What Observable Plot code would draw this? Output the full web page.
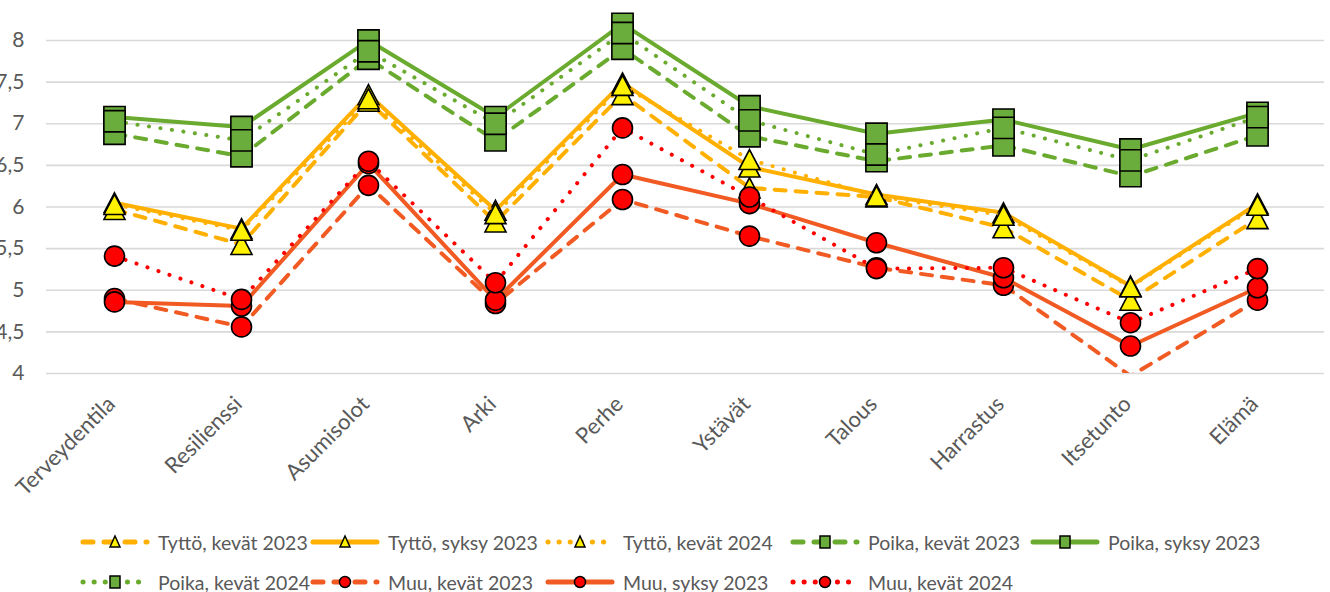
<!DOCTYPE html>
<html><head><meta charset="utf-8">
<script src="https://cdn.jsdelivr.net/npm/d3@7"></script>
<script src="https://cdn.jsdelivr.net/npm/@observablehq/plot@0.6"></script>
<style>
body{margin:0;background:#fff;font-family:Lato,"Open Sans",sans-serif;}
#chart{width:1330px;height:592px;overflow:hidden;position:relative;}
.legend{display:grid;grid-template-columns:230px 235px 245px 240px 240px;padding-left:80px;}
.item{display:flex;align-items:center;height:40px;font-size:19.5px;color:#595959;white-space:nowrap;}
.item svg{margin-right:8px;flex:none;}
</style></head><body><div id="chart"></div>
<script>
const categories = ["Terveydentila","Resilienssi","Asumisolot","Arki","Perhe","Ystävät","Talous","Harrastus","Itsetunto","Elämä"];
const yTicks = [4, 4.5, 5, 5.5, 6, 6.5, 7, 7.5, 8];

const tyttoKevat2023 = [5.97, 5.55, 7.27, 5.82, 7.35, 6.23, 6.12, 5.75, 4.88, 5.86];
const tyttoSyksy2023 = [6.05, 5.74, 7.35, 5.96, 7.49, 6.48, 6.15, 5.93, 5.05, 6.04];
const tyttoKevat2024 = [6.03, 5.72, 7.30, 5.92, 7.46, 6.57, 6.13, 5.90, 5.04, 6.02];
const poikaKevat2023 = [6.88, 6.61, 7.78, 6.80, 7.90, 6.85, 6.55, 6.74, 6.37, 6.86];
const poikaSyksy2023 = [7.08, 6.96, 8.00, 7.08, 8.20, 7.21, 6.88, 7.05, 6.69, 7.13];
const poikaKevat2024 = [7.03, 6.80, 7.87, 7.00, 8.09, 7.04, 6.63, 6.95, 6.56, 7.08];
const muuKevat2023   = [4.90, 4.56, 6.26, 4.84, 6.09, 5.65, 5.27, 5.06, 3.97, 4.88];
const muuSyksy2023   = [4.86, 4.81, 6.52, 4.88, 6.39, 6.04, 5.57, 5.15, 4.33, 5.03];
const muuKevat2024   = [5.41, 4.89, 6.55, 5.09, 6.95, 6.12, 5.26, 5.27, 4.61, 5.26];

const seriesNames = ["Tyttö, kevät 2023","Tyttö, syksy 2023","Tyttö, kevät 2024","Poika, kevät 2023","Poika, syksy 2023","Poika, kevät 2024","Muu, kevät 2023","Muu, syksy 2023","Muu, kevät 2024"];
const seriesValues = [tyttoKevat2023,tyttoSyksy2023,tyttoKevat2024,poikaKevat2023,poikaSyksy2023,poikaKevat2024,muuKevat2023,muuSyksy2023,muuKevat2024];

// styles
const ORANGE="#FFB000", YELLOW="#FFF200", GREEN="#6AAB2F", GREENFILL="#6AAD3C", MUU="#F15A22", RED="#FF0000";
const DASH="11,10", DOT="0.1,11.5";
const triangle = {draw(ctx){ const w=10.5,h=10; ctx.moveTo(0,-h); ctx.lineTo(w,h); ctx.lineTo(-w,h); ctx.closePath(); }};
const styles = [
  {stroke:ORANGE, dash:DASH, symbol:triangle, fill:YELLOW, r:8, kind:"tri"},
  {stroke:ORANGE, dash:null, symbol:triangle, fill:YELLOW, r:8, kind:"tri"},
  {stroke:ORANGE, dash:DOT, symbol:triangle, fill:YELLOW, r:8, kind:"tri"},
  {stroke:GREEN, dash:DASH, symbol:"square", fill:GREENFILL, r:12, kind:"sq"},
  {stroke:GREEN, dash:null, symbol:"square", fill:GREENFILL, r:12, kind:"sq"},
  {stroke:GREEN, dash:DOT, symbol:"square", fill:GREENFILL, r:12, kind:"sq"},
  {stroke:MUU, dash:DASH, symbol:"circle", fill:RED, r:10, kind:"ci"},
  {stroke:MUU, dash:null, symbol:"circle", fill:RED, r:10, kind:"ci"},
  {stroke:RED, dash:DOT, symbol:"circle", fill:RED, r:10, kind:"ci"}
];

const rows = seriesValues.flatMap((vals,i)=>vals.map((v,j)=>({series:seriesNames[i], category:categories[j], value:v})));

const marks = [
  Plot.gridY(yTicks, {stroke:"#d9d9d9", strokeOpacity:1, strokeWidth:1.6}),
  Plot.axisY({ticks:yTicks, tickFormat:d=>String(d).replace(".", ","), tickSize:0, tickPadding:22, fontSize:21}),
  Plot.axisX({tickRotate:-45, tickSize:0, tickPadding:27, dx:-3, fontSize:22})
];
seriesNames.forEach((name,i)=>{
  const s = styles[i];
  const data = rows.filter(d=>d.series===name);
  marks.push(Plot.line(data, {x:"category", y:"value", stroke:s.stroke, strokeWidth:4, strokeDasharray:s.dash||undefined, strokeLinecap:"round", strokeLinejoin:"round", clip:true}));
  marks.push(Plot.dot(data.filter(d=>d.value>=4), {x:"category", y:"value", symbol:s.symbol, r:s.r, fill:s.fill, stroke:"#000", strokeWidth:1.6}));
});

const chart = Plot.plot({
  width:1330, height:522,
  marginLeft:46, marginRight:6, marginTop:0, marginBottom:149,
  style:{color:"#595959", fontFamily:"Lato, 'Open Sans', sans-serif", background:"#fff", overflow:"visible"},
  x:{type:"point", domain:categories, padding:0.5, label:null},
  y:{domain:[4, 8.48], label:null},
  marks
});
document.getElementById("chart").appendChild(chart);

// legend
function sample(i){
  const s = styles[i];
  const W=70, H=20, cy=10;
  let line = `<line x1="3" x2="${W-3}" y1="${cy}" y2="${cy}" stroke="${s.stroke}" stroke-width="5" stroke-linecap="round" ${s.dash ? `stroke-dasharray="${s.dash===DASH ? '10,11' : '0.1,11'}"` : ''}/>`;
  let m;
  const cx=W/2;
  if(s.kind==="tri") m = `<path d="M${cx},${cy-6}L${cx+5},${cy+5}L${cx-5},${cy+5}Z" fill="${s.fill}" stroke="#000" stroke-width="1.5"/>`;
  else if(s.kind==="sq") m = `<rect x="${cx-5}" y="${cy-6}" width="10" height="12" fill="${s.fill}" stroke="#000" stroke-width="1.5"/>`;
  else m = `<circle cx="${cx}" cy="${cy}" r="5.5" fill="${s.fill}" stroke="#000" stroke-width="1.5"/>`;
  return `<svg width="${W}" height="${H}">${line}${m}</svg>`;
}
const legend = document.createElement("div");
legend.className = "legend";
legend.innerHTML = seriesNames.map((n,i)=>`<div class="item">${sample(i)}<span>${n}</span></div>`).join("");
document.getElementById("chart").appendChild(legend);
</script></body></html>
